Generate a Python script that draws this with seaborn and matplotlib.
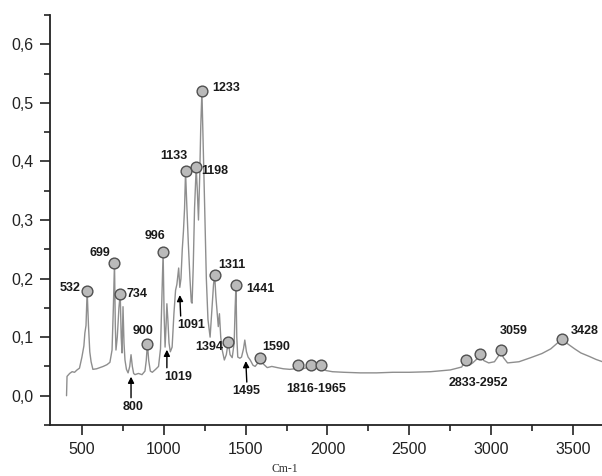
import seaborn as sns
import matplotlib.pyplot as plt
import matplotlib.ticker as mticker
import pandas as pd

# spectrum trace
wavenumber = [406, 409, 425, 440, 455, 470, 485, 500, 512, 518, 525, 532, 540, 548, 556, 567,
              590, 610, 630, 653, 671, 684, 692, 699, 704, 708, 716, 726, 734, 740, 745, 751,
              757, 763, 772, 782, 792, 800, 808, 816, 824, 845, 867, 885, 893, 900, 908, 918,
              930, 950, 968, 980, 988, 996, 1002, 1008, 1014, 1019, 1025, 1032, 1040, 1051,
              1062, 1072, 1080, 1091, 1098, 1105, 1113, 1120, 1127, 1133, 1140, 1150, 1160,
              1168, 1173, 1180, 1188, 1198, 1205, 1212, 1220, 1226, 1233, 1240, 1250, 1260,
              1270, 1283, 1295, 1304, 1311, 1318, 1326, 1333, 1340, 1348, 1357, 1370, 1382,
              1394, 1405, 1418, 1430, 1436, 1441, 1446, 1452, 1465, 1475, 1487, 1495, 1505,
              1515, 1528, 1545, 1558, 1575, 1590, 1605, 1632, 1660, 1693, 1730, 1770, 1800,
              1822, 1850, 1875, 1901, 1930, 1963, 1990, 2030, 2100, 2200, 2300, 2400, 2500,
              2630, 2750, 2820, 2844, 2865, 2887, 2910, 2930, 2955, 2985, 3020, 3045, 3058,
              3075, 3100, 3170, 3242, 3310, 3364, 3405, 3431, 3470, 3510, 3548, 3600, 3640, 3680]
absorbance = [0.000, 0.033, 0.038, 0.041, 0.040, 0.044, 0.047, 0.066, 0.085, 0.107, 0.120, 0.179,
              0.120, 0.075, 0.058, 0.045, 0.046, 0.048, 0.050, 0.053, 0.057, 0.078, 0.150, 0.227,
              0.120, 0.078, 0.100, 0.150, 0.174, 0.100, 0.073, 0.152, 0.090, 0.061, 0.045, 0.039,
              0.050, 0.070, 0.050, 0.038, 0.036, 0.038, 0.036, 0.042, 0.060, 0.089, 0.060, 0.042,
              0.040, 0.045, 0.050, 0.080, 0.160, 0.245, 0.140, 0.083, 0.120, 0.157, 0.130, 0.090,
              0.075, 0.083, 0.140, 0.180, 0.190, 0.218, 0.185, 0.200, 0.250, 0.280, 0.320, 0.383,
              0.330, 0.260, 0.200, 0.160, 0.158, 0.220, 0.320, 0.390, 0.350, 0.300, 0.380, 0.460,
              0.520, 0.440, 0.320, 0.200, 0.130, 0.100, 0.150, 0.190, 0.206, 0.170, 0.143, 0.118,
              0.140, 0.100, 0.078, 0.061, 0.070, 0.092, 0.070, 0.065, 0.090, 0.150, 0.189, 0.100,
              0.066, 0.064, 0.066, 0.080, 0.095, 0.075, 0.066, 0.061, 0.052, 0.050, 0.056, 0.065,
              0.055, 0.048, 0.050, 0.048, 0.046, 0.045, 0.046, 0.052, 0.046, 0.048, 0.053, 0.047,
              0.052, 0.043, 0.041, 0.040, 0.039, 0.039, 0.040, 0.040, 0.041, 0.044, 0.049, 0.061,
              0.052, 0.056, 0.062, 0.071, 0.060, 0.056, 0.058, 0.068, 0.078, 0.065, 0.056, 0.058,
              0.065, 0.072, 0.080, 0.090, 0.097, 0.088, 0.080, 0.073, 0.067, 0.062, 0.058]

# marked bands: position, height, label, label offset (px), alignment
peak_wn = [532, 699, 734, 900, 996, 1133, 1198, 1233, 1311, 1394, 1441, 1590,
           1822, 1901, 1963, 2844, 2930, 3058, 3431]
peak_abs = [0.179, 0.227, 0.174, 0.089, 0.245, 0.383, 0.390, 0.520, 0.206, 0.092, 0.189,
            0.065, 0.052, 0.053, 0.052, 0.061, 0.071, 0.078, 0.097]
peak_labels = ["532", "699", "734", "900", "996", "1133", "1198", "1233", "1311", "1394",
               "1441", "1590", "", "1816-1965", "", "", "2833-2952", "3059", "3428"]
label_dx = [-7, -4, 6, -4, -8, -12, 5, 10, 4, -5, 10, 2, 0, 5, 0, 0, -1, 13, 9]
label_dy = [3, 10, 0, 13, 16, 15, -4, 3, 10, -5, -4, 11, 0, -24, 0, 0, -29, 19, 8]
label_ha = ["right", "right", "left", "center", "center", "center", "left", "left", "left",
            "right", "left", "left", "center", "center", "center", "center", "center",
            "center", "left"]

# bands pointed at with arrows from below
arrow_wn = [800, 1019, 1091, 1495]
arrow_abs = [0.070, 0.157, 0.218, 0.095]
arrow_labels = ["800", "1019", "1091", "1495"]
arrow_tip = [22, 46, 27, 21]
arrow_len = [21, 18, 21, 21]
arrow_dx = [0, 0, 2, 2]
arrow_text_dx = [2, 11, 13, 1]

spec = pd.DataFrame({"wn": wavenumber, "abs": absorbance})
peaks = pd.DataFrame({"wn": peak_wn, "abs": peak_abs})

sns.set_style("ticks")
plt.rcParams["font.family"] = ["Liberation Sans", "DejaVu Sans"]

fig = plt.figure(figsize=(6.02, 4.76), dpi=100)
ax = fig.add_axes([50 / 602, 51 / 476, 552 / 602, 410 / 476])

sns.lineplot(data=spec, x="wn", y="abs", ax=ax, color="#8e8e8e", lw=1.0,
             estimator=None, sort=False)
sns.scatterplot(data=peaks, x="wn", y="abs", ax=ax, s=60, color="#bababa",
                edgecolor="#505050", linewidth=1.0, zorder=5)

for i in range(len(peak_wn)):
    if peak_labels[i]:
        ax.annotate(peak_labels[i], (peak_wn[i], peak_abs[i]), xytext=(label_dx[i], label_dy[i]),
                    textcoords="offset pixels", ha=label_ha[i], va="center",
                    fontsize=9, fontweight="bold", color="#1a1a1a")

for i in range(len(arrow_wn)):
    tail = arrow_tip[i] + arrow_len[i]
    ax.annotate("", (arrow_wn[i], arrow_abs[i]), xytext=(arrow_dx[i], -tail),
                textcoords="offset pixels",
                arrowprops=dict(arrowstyle="-|>", color="black", lw=1.0, mutation_scale=9,
                                shrinkA=0, shrinkB=arrow_tip[i] * 0.72))
    ax.annotate(arrow_labels[i], (arrow_wn[i], arrow_abs[i]),
                xytext=(arrow_text_dx[i], -tail - 9), textcoords="offset pixels",
                ha="center", va="center", fontsize=9, fontweight="bold", color="#1a1a1a")

ax.set_xlim(305, 3677)
ax.set_ylim(-0.05, 0.65)
ax.xaxis.set_major_locator(mticker.MultipleLocator(500))
ax.xaxis.set_minor_locator(mticker.MultipleLocator(250))
ax.yaxis.set_major_locator(mticker.FixedLocator([0, 0.1, 0.2, 0.3, 0.4, 0.5, 0.6]))
ax.yaxis.set_minor_locator(mticker.MultipleLocator(0.05))
ax.yaxis.set_major_formatter(mticker.FuncFormatter(lambda v, p: f"{v:.1f}".replace(".", ",")))
ax.tick_params(which="major", length=7, width=1.2, labelsize=11.5, color="#222222",
               labelcolor="#222222", pad=5)
ax.tick_params(which="minor", length=4, width=1.2, color="#222222")
for side in ["left", "bottom"]:
    ax.spines[side].set_linewidth(1.3)
    ax.spines[side].set_color("#222222")
sns.despine(ax=ax)
ax.set_xlabel("")
ax.set_ylabel("")

fig.text(285 / 602, 1 - 469 / 476, "Cm-1", family="Liberation Serif", fontsize=8.5,
         ha="center", va="center", color="#333333")

fig.savefig("out.png", dpi=100)
